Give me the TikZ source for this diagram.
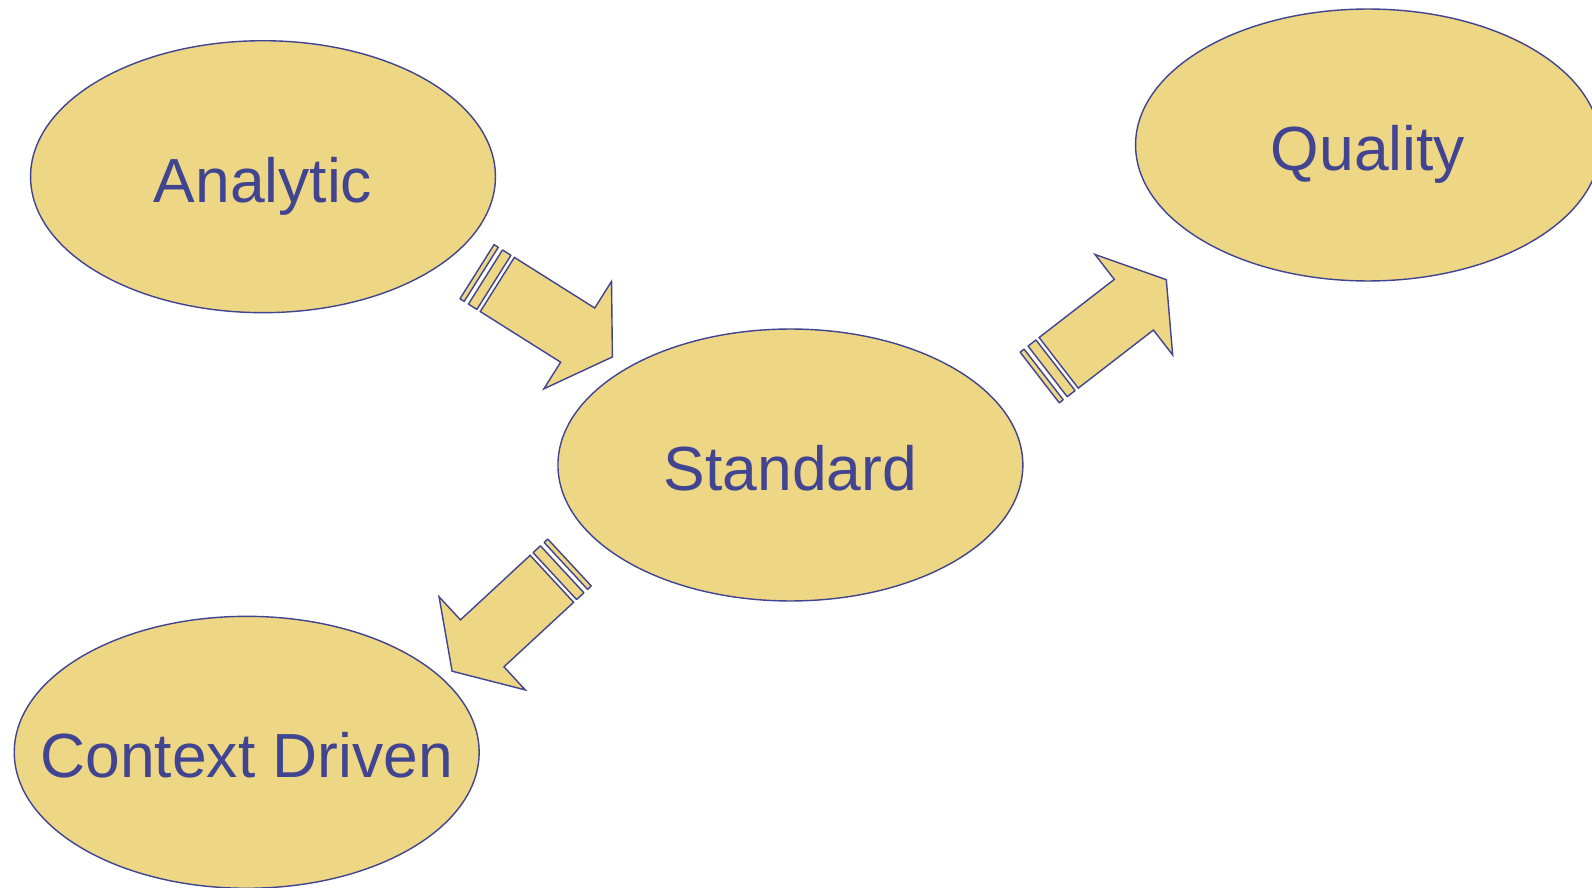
\documentclass[tikz,border=0pt]{standalone}
\usepackage{fontspec}
\setmainfont{Liberation Sans}
\usetikzlibrary{shapes.geometric}

\definecolor{sand}{RGB}{237,214,132}
\definecolor{ink}{RGB}{64,68,145}

\tikzset{
  blob/.style={ellipse, draw=ink, fill=sand, line width=0.8pt,
    minimum width=9.3cm, minimum height=5.44cm, inner sep=0pt},
  word/.style={text=ink, font=\fontsize{35.5}{40}\selectfont, inner sep=0pt,
    text height=1.02cm, text depth=0pt},
  pics/fatarrow/.style={code={
    \draw[draw=ink, fill=sand, line width=0.8pt, line join=round]
      (0,-32) rectangle (5,32) (10,-32) rectangle (20,32);
    \draw[draw=ink, fill=sand, line width=0.8pt]
      (24,-32) -- (119,-32) -- (119,-63.5) -- (160,0) -- (119,63.5) -- (119,32) -- (24,32) -- cycle;
  }}
}

\begin{document}
\begin{tikzpicture}[x=0.02cm, y=-0.02cm]
  \path[use as bounding box, clip] (0,0) rectangle (1592,888);
  % the four ellipses
  \node[blob] (analytic) at (263,176.7) {};
  \node[blob] (standard) at (790.4,465) {};
  \node[blob] (quality)  at (1368,145) {};
  \node[blob] (context)  at (246.7,752.3) {};
  \node[word] at (analytic) {Analytic};
  \node[word] at (standard) {Standard};
  \node[word] at (quality) {Quality};
  \node[word] at (context) {Context Driven};
  % striped block arrows
  \coordinate (tail1) at (477,271.7);
  \coordinate (tail2) at (1039.7,377.5);
  \coordinate (tail3) at (569.5,562.5);
  \pic[rotate=-32.2] at (tail1) {fatarrow};
  \pic[rotate=37.7] at (tail2) {fatarrow};
  \pic[rotate=-137.2] at (tail3) {fatarrow};
\end{tikzpicture}
\end{document}
